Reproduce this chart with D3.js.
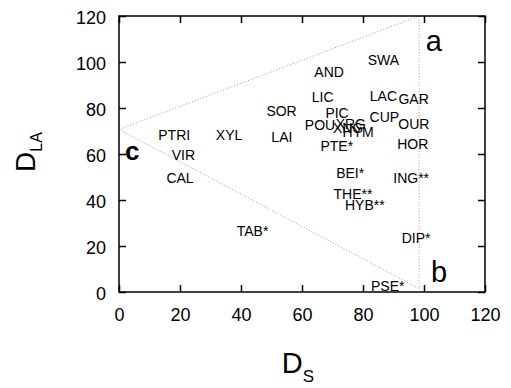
<!DOCTYPE html>
<html>
<head>
<meta charset="utf-8">
<script src="https://cdn.jsdelivr.net/npm/d3@7"></script>
<style>
  body { margin: 0; background: #fff; }
  svg { display: block; font-family: "Liberation Sans", Arial, sans-serif; }
</style>
</head>
<body>
<div id="chart"></div>
<script>
// species labels, placed at (D_S, D_LA)
const names = ['PTRI', 'XYL', 'SOR', 'LAI', 'VIR', 'CAL', 'TAB*', 'SWA', 'AND', 'LIC',
  'LAC', 'GAR', 'PIC', 'CUP', 'POU', 'XRG', 'XNG', 'HYM', 'OUR', 'HOR',
  'PTE*', 'BEI*', 'ING**', 'THE**', 'HYB**', 'DIP*', 'PSE*'];
const ds = [18.1, 36.1, 53.3, 53.4, 21.1, 20.0, 43.8, 86.7, 68.9, 66.8,
  86.7, 96.6, 71.5, 87.0, 65.9, 76.0, 75.1, 78.4, 96.7, 96.3,
  71.4, 75.8, 95.8, 76.7, 80.6, 97.4, 88.1];
const dla = [68.3, 68.3, 78.7, 67.4, 59.6, 49.7, 26.7, 100.9, 95.8, 84.9,
  85.2, 83.9, 78.0, 76.2, 72.6, 73.0, 71.3, 69.7, 73.0, 64.3,
  63.5, 51.6, 49.4, 42.6, 37.8, 23.6, 2.7];

// triangle corners a, b, c
const cornerNames = ['a', 'b', 'c'];
const cornerX = [98.4, 98.4, 0];
const cornerY = [120, 1.5, 70.7];
// where the corner letters sit
const cornerLabelX = [100.6, 102.3, 2.0];
const cornerLabelY = [105, 4.5, 57.5];

const xTicks = [0, 20, 40, 60, 80, 100, 120];
const yTicks = [0, 20, 40, 60, 80, 100, 120];

const width = 511, height = 388;
const margin = { top: 16, right: 26, bottom: 96, left: 119 };
const w = width - margin.left - margin.right;
const h = height - margin.top - margin.bottom;

const svg = d3.select('#chart').append('svg')
  .attr('width', width)
  .attr('height', height);

const g = svg.append('g').attr('transform', `translate(${margin.left},${margin.top})`);

const x = d3.scaleLinear().domain([0, 120]).range([0, w]);
const y = d3.scaleLinear().domain([0, 120]).range([h, 0]);

// axes, ticks pointing inwards on all four sides
const styleAxis = sel => {
  sel.select('.domain').remove();
  sel.selectAll('.tick line').attr('stroke', '#000').attr('stroke-width', 1.5);
  sel.selectAll('.tick text').attr('fill', '#000').style('font-size', '18px');
};

g.append('g').attr('transform', `translate(0,${h})`)
  .call(d3.axisBottom(x).tickValues(xTicks).tickSize(-7).tickPadding(16))
  .call(styleAxis);
g.append('g')
  .call(d3.axisTop(x).tickValues(xTicks).tickSize(-7).tickFormat(''))
  .call(styleAxis);
g.append('g')
  .call(d3.axisLeft(y).tickValues(yTicks).tickSize(-7).tickPadding(13))
  .call(styleAxis)
  .selectAll('.tick text').attr('dy', '0.42em');
g.append('g').attr('transform', `translate(${w},0)`)
  .call(d3.axisRight(y).tickValues(yTicks).tickSize(-7).tickFormat(''))
  .call(styleAxis);

// triangle, dotted
const tri = [0, 2, 1].map(i => [x(cornerX[i]), y(cornerY[i])]);
g.append('path')
  .attr('d', d3.line()([tri[1], tri[0], tri[2], tri[1]]))
  .attr('fill', 'none')
  .attr('stroke', '#999')
  .attr('stroke-width', 1)
  .attr('stroke-dasharray', '1,2');

// frame
g.append('rect')
  .attr('width', w)
  .attr('height', h)
  .attr('fill', 'none')
  .attr('stroke', '#000')
  .attr('stroke-width', 1.5);

// species labels
g.append('g')
  .selectAll('text')
  .data(names)
  .join('text')
  .attr('x', (d, i) => x(ds[i]))
  .attr('y', (d, i) => y(dla[i]))
  .attr('text-anchor', 'middle')
  .attr('dy', '0.36em')
  .style('font-size', '14px')
  .text(d => d);

// corner letters
g.append('g')
  .selectAll('text')
  .data(cornerNames)
  .join('text')
  .attr('x', (d, i) => x(cornerLabelX[i]))
  .attr('y', (d, i) => y(cornerLabelY[i]))
  .style('font-size', d => d === 'c' ? '26px' : '29px')
  .style('font-weight', d => d === 'c' ? 'bold' : 'normal')
  .text(d => d);

// axis titles
const xTitle = svg.append('text')
  .attr('x', 298)
  .attr('y', 373)
  .attr('text-anchor', 'middle')
  .style('font-size', '29px');
xTitle.append('tspan').text('D');
xTitle.append('tspan').attr('dy', 9).style('font-size', '17px').text('S');

const yTitle = svg.append('text')
  .attr('transform', 'translate(35,152) rotate(-90)')
  .attr('text-anchor', 'middle')
  .style('font-size', '28px');
yTitle.append('tspan').text('D');
yTitle.append('tspan').attr('dy', 7).style('font-size', '16px').text('LA');
</script>
</body>
</html>
